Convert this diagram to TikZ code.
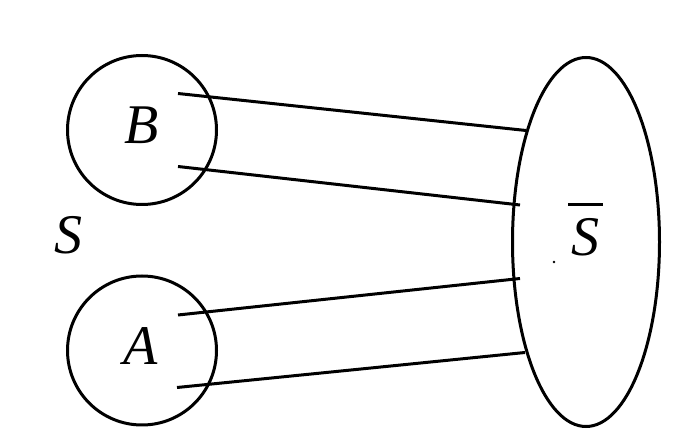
\documentclass[tikz,border=0pt]{standalone}
\usepackage{fontspec}
\setmainfont{Liberation Serif}
\usetikzlibrary{shapes.geometric,calc}
\begin{document}
\begin{tikzpicture}[x=1pt,y=-1pt,line width=3pt,
  setc/.style={circle,draw,minimum size=149pt,inner sep=0pt},
  setell/.style={ellipse,draw,minimum width=147pt,minimum height=369pt,inner sep=0pt},
  lbl/.style={font=\fontsize{56}{60}\selectfont\itshape,inner sep=0pt},
  link/.style={line width=3pt}]
\useasboundingbox (0,0) rectangle (691,435);
\node[setc] (B) at (142,130) {};
\node[setc] (A) at (142,350.5) {};
\node[setell] (Sbar) at (586,242) {};
\node[lbl] (Bl) at (141.5,125.5) {B};
\node[lbl] (Al) at (141,346.5) {A};
\node[lbl] (Sl) at (68.5,235.5) {S};
\node[lbl] (Sbl) at (585.5,237) {S};
\draw[line width=2.5pt] ($(Sbl.north)+(-17.5,-12)$) -- ($(Sbl.north)+(17.5,-12)$);
\coordinate (b1) at (178,93.5);
\coordinate (b2) at (178,166.5);
\coordinate (a1) at (178,315);
\coordinate (a2) at (177,387.5);
\coordinate (e1) at (526,130.5);
\coordinate (e2) at (520,205);
\coordinate (e3) at (520,278.5);
\coordinate (e4) at (525,352.5);
\draw[link] (b1) -- (e1);
\draw[link] (b2) -- (e2);
\draw[link] (a1) -- (e3);
\draw[link] (a2) -- (e4);
\fill (554,262) circle (1.3pt);
\end{tikzpicture}
\end{document}
